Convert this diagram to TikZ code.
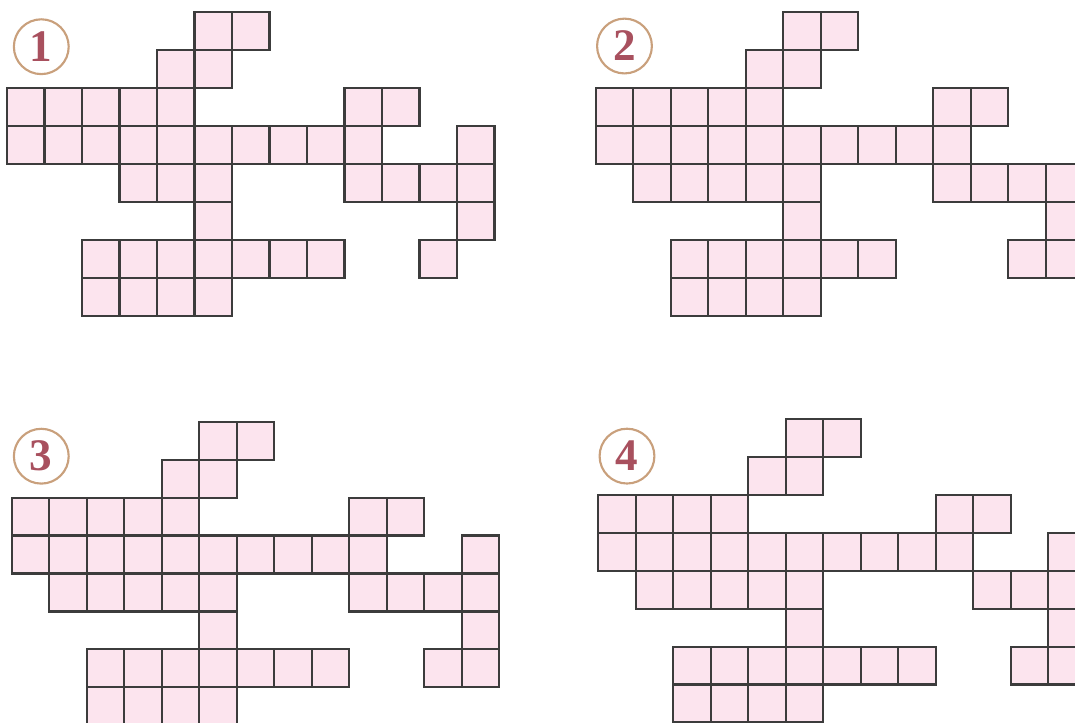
\documentclass[tikz,border=0pt]{standalone}
\usepackage{fontspec}
\setmainfont{Liberation Serif}
\usepackage{tikz}

\definecolor{cellpink}{RGB}{252,228,238}
\definecolor{gridgray}{RGB}{60,60,60}
\definecolor{ringtan}{RGB}{201,160,124}
\definecolor{numred}{RGB}{168,80,94}

\begin{document}
\begin{tikzpicture}[x=0.992cm, y=-1.003cm,
  cell/.style={fill=cellpink, draw=gridgray, line width=1.7pt},
  numring/.style={circle, draw=ringtan, line width=1.6pt, minimum size=1.45cm, inner sep=0pt,
    text=numred, font=\fontsize{34}{34}\selectfont\bfseries}]
\useasboundingbox (0,0) rectangle (28.667,19.050);

% panel 1
\begin{scope}[shift={(0.187,0.325)}]
\foreach \c in {5,6} \draw[cell] (\c,0) rectangle +(1,1);
\foreach \c in {4,5} \draw[cell] (\c,1) rectangle +(1,1);
\foreach \c in {0,...,4,9,10} \draw[cell] (\c,2) rectangle +(1,1);
\foreach \c in {0,...,9,12} \draw[cell] (\c,3) rectangle +(1,1);
\foreach \c in {3,4,5,9,10,11,12} \draw[cell] (\c,4) rectangle +(1,1);
\foreach \c in {5,12} \draw[cell] (\c,5) rectangle +(1,1);
\foreach \c in {2,...,8,11} \draw[cell] (\c,6) rectangle +(1,1);
\foreach \c in {2,...,5} \draw[cell] (\c,7) rectangle +(1,1);
\end{scope}
\node[numring] (num1) at (1.101,1.232) {1};

% panel 2
\begin{scope}[shift={(15.885,0.325)}]
\foreach \c in {5,6} \draw[cell] (\c,0) rectangle +(1,1);
\foreach \c in {4,5} \draw[cell] (\c,1) rectangle +(1,1);
\foreach \c in {0,...,4,9,10} \draw[cell] (\c,2) rectangle +(1,1);
\foreach \c in {0,...,9} \draw[cell] (\c,3) rectangle +(1,1);
\foreach \c in {1,...,5,9,10,11,12} \draw[cell] (\c,4) rectangle +(1,1);
\foreach \c in {5,12} \draw[cell] (\c,5) rectangle +(1,1);
\foreach \c in {2,...,7,11,12} \draw[cell] (\c,6) rectangle +(1,1);
\foreach \c in {2,...,5} \draw[cell] (\c,7) rectangle +(1,1);
\end{scope}
\node[numring] (num2) at (16.653,1.214) {2};

% panel 3
\begin{scope}[shift={(0.311,11.126)}]
\foreach \c in {5,6} \draw[cell] (\c,0) rectangle +(1,1);
\foreach \c in {4,5} \draw[cell] (\c,1) rectangle +(1,1);
\foreach \c in {0,...,4,9,10} \draw[cell] (\c,2) rectangle +(1,1);
\foreach \c in {0,...,9,12} \draw[cell] (\c,3) rectangle +(1,1);
\foreach \c in {1,...,5,9,10,11,12} \draw[cell] (\c,4) rectangle +(1,1);
\foreach \c in {5,12} \draw[cell] (\c,5) rectangle +(1,1);
\foreach \c in {2,...,8,11,12} \draw[cell] (\c,6) rectangle +(1,1);
\foreach \c in {2,...,5} \draw[cell] (\c,7) rectangle +(1,1);
\end{scope}
\node[numring] (num3) at (1.101,12.032) {3};

% panel 4
\begin{scope}[shift={(15.955,11.055)}]
\foreach \c in {5,6} \draw[cell] (\c,0) rectangle +(1,1);
\foreach \c in {4,5} \draw[cell] (\c,1) rectangle +(1,1);
\foreach \c in {0,...,3,9,10} \draw[cell] (\c,2) rectangle +(1,1);
\foreach \c in {0,...,9,12} \draw[cell] (\c,3) rectangle +(1,1);
\foreach \c in {1,...,5,10,11,12} \draw[cell] (\c,4) rectangle +(1,1);
\foreach \c in {5,12} \draw[cell] (\c,5) rectangle +(1,1);
\foreach \c in {2,...,8,11,12} \draw[cell] (\c,6) rectangle +(1,1);
\foreach \c in {2,...,5} \draw[cell] (\c,7) rectangle +(1,1);
\end{scope}
\node[numring] (num4) at (16.72,12.03) {4};
\end{tikzpicture}
\end{document}
